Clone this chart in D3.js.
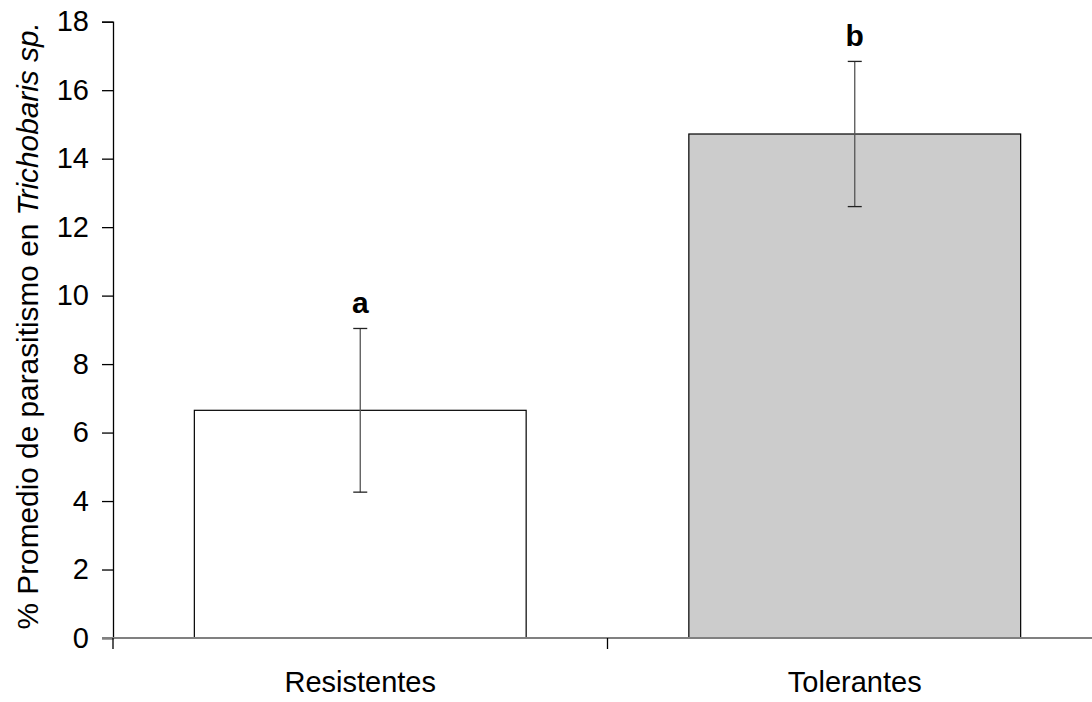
<!DOCTYPE html>
<html>
<head>
<meta charset="utf-8">
<script src="https://cdn.jsdelivr.net/npm/d3@7"></script>
<style>
  html, body { margin: 0; padding: 0; background: #fff; }
  svg { display: block; font-family: "Liberation Sans", Arial, sans-serif; }
</style>
</head>
<body>
<svg id="chart" width="1092" height="702"></svg>
<script>
// Parasitism by plant group
const categories = ["Resistentes", "Tolerantes"];
const means = [6.65, 14.72];
const errors = [2.39, 2.12];
const letters = ["a", "b"];
const fills = ["#ffffff", "#cccccc"];
const yTicks = [0, 2, 4, 6, 8, 10, 12, 14, 16, 18];

const svg = d3.select("#chart");
const x0 = 113, x1 = 1102, yTop = 21.7, yBot = 638;
const fontSize = 29;

const x = d3.scaleBand().domain(categories).range([x0, x1]).paddingInner(0.329).paddingOuter(0.1645);
const y = d3.scaleLinear().domain([0, 18]).range([yBot, yTop]);

// y axis
const yAxis = d3.axisLeft(y).tickValues(yTicks).tickSize(11).tickPadding(13).tickFormat(d3.format("d"));
const gy = svg.append("g").attr("transform", `translate(${x0},0)`).call(yAxis);
gy.select(".domain").attr("stroke", "#000").attr("stroke-width", 1.3);
gy.selectAll(".tick line").attr("stroke", "#000").attr("stroke-width", 1.3);
gy.selectAll(".tick text").attr("font-size", fontSize).attr("fill", "#000")
  .attr("font-family", "Liberation Sans, Arial, sans-serif");

// bars
svg.selectAll("rect.bar").data(categories).enter().append("rect")
  .attr("class", "bar")
  .attr("x", d => x(d))
  .attr("width", x.bandwidth())
  .attr("y", (d, i) => y(means[i]))
  .attr("height", (d, i) => y(0) - y(means[i]))
  .attr("fill", (d, i) => fills[i])
  .attr("stroke", "#000").attr("stroke-width", 1.2);

// x axis (gray baseline with ticks at band boundaries)
const xb = d3.scaleLinear().domain([0, 2]).range([x0, x1]);
svg.append("line").attr("x1", x0 - 11).attr("x2", x1).attr("y1", yBot).attr("y2", yBot)
  .attr("stroke", "#808080").attr("stroke-width", 2);
svg.selectAll("line.xtick").data([0, 1, 2]).enter().append("line")
  .attr("class", "xtick")
  .attr("x1", d => xb(d)).attr("x2", d => xb(d))
  .attr("y1", yBot).attr("y2", yBot + 11)
  .attr("stroke", "#000").attr("stroke-width", 1.3);
svg.selectAll("text.xlab").data(categories).enter().append("text")
  .attr("class", "xlab")
  .attr("x", d => x(d) + x.bandwidth() / 2)
  .attr("y", 692)
  .attr("text-anchor", "middle")
  .attr("font-size", fontSize)
  .text(d => d);

// error bars
const eb = svg.selectAll("g.err").data(categories).enter().append("g").attr("class", "err");
const cx = d => x(d) + x.bandwidth() / 2;
eb.append("line")
  .attr("x1", cx).attr("x2", cx)
  .attr("y1", (d, i) => y(means[i] - errors[i]))
  .attr("y2", (d, i) => y(means[i] + errors[i]))
  .attr("stroke", "#555").attr("stroke-width", 1.3);
[-1, 1].forEach(s => {
  eb.append("line")
    .attr("x1", d => cx(d) - 7).attr("x2", d => cx(d) + 7)
    .attr("y1", (d, i) => y(means[i] + s * errors[i]))
    .attr("y2", (d, i) => y(means[i] + s * errors[i]))
    .attr("stroke", "#222").attr("stroke-width", 1.3);
});

// significance letters
svg.selectAll("text.sig").data(categories).enter().append("text")
  .attr("class", "sig")
  .attr("x", cx)
  .attr("y", (d, i) => y(means[i] + errors[i]) - 15)
  .attr("text-anchor", "middle")
  .attr("font-size", 30).attr("font-weight", "bold")
  .text((d, i) => letters[i]);

// y axis title
const title = svg.append("text")
  .attr("transform", `translate(38,${(yTop + yBot) / 2 - 4}) rotate(-90)`)
  .attr("text-anchor", "middle")
  .attr("font-size", 29.8);
title.append("tspan").text("% Promedio de parasitismo en ");
title.append("tspan").attr("font-style", "italic").text("Trichobaris sp.");
</script>
</body>
</html>
